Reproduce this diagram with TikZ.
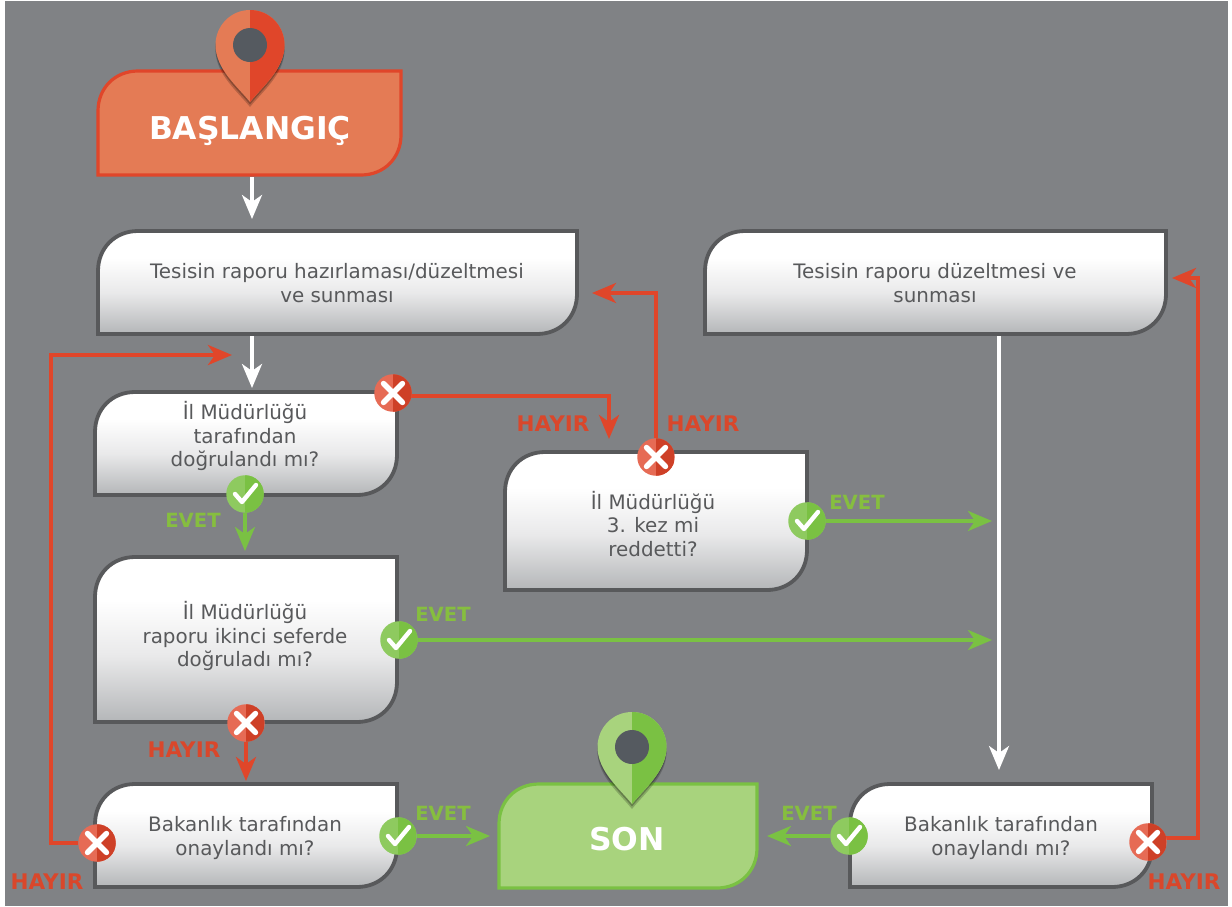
\documentclass[tikz,border=0pt]{standalone}
\usepackage{fontspec}
\setmainfont{DejaVu Sans}
\usetikzlibrary{arrows.meta,calc}
\definecolor{bgc}{HTML}{808285}
\definecolor{edgec}{HTML}{58595B}
\definecolor{txtc}{HTML}{58595B}
\definecolor{redc}{HTML}{E0462A}
\definecolor{redl}{HTML}{E47B55}
\definecolor{grnc}{HTML}{7AC143}
\definecolor{grnl}{HTML}{A8D37D}
\definecolor{lblr}{HTML}{D9472B}
\definecolor{lblg}{HTML}{86BE3F}
\definecolor{pinhole}{HTML}{555A60}
\definecolor{shlo}{HTML}{B4B6B8}
\definecolor{shmid}{HTML}{E9E9EA}
\pgfdeclareverticalshading{boxshade}{100bp}{color(0bp)=(shlo); color(25bp)=(shlo); color(45bp)=(shmid); color(62bp)=(white); color(100bp)=(white)}
\pgfdeclarelayer{bgl}
\pgfdeclarelayer{conn}
\pgfsetlayers{bgl,conn,main}
\tikzset{
  boxtext/.style={align=center,text=txtc,inner sep=0,font=\fontsize{19.9}{23.4}\selectfont},
  flowfill/.style={draw=edgec,line width=3.8,shading=boxshade},
  startfill/.style={draw=redc,line width=3.2,fill=redl},
  endfill/.style={draw=grnc,line width=3.2,fill=grnl},
  termtext/.style={text=white,inner sep=0,font=\fontsize{31.4}{34}\bfseries\selectfont},
  conred/.style={draw=redc,line width=4,-{Stealth[length=24,width=20,inset=7]}},
  congrn/.style={draw=grnc,line width=3.6,-{Stealth[length=24,width=20,inset=7]}},
  conwht/.style={draw=white,line width=3.6,-{Stealth[length=24,width=20,inset=7]}},
  lblno/.style={text=lblr,inner sep=0,font=\fontsize{21.5}{24}\bfseries\selectfont},
  lblyes/.style={text=lblg,inner sep=0,font=\fontsize{19.6}{24}\bfseries\selectfont},
  nobadge/.style={circle,minimum size=37.5,inner sep=0,fill=white!20!redc,path picture={
    \fill[fill=black!8!redc] (path picture bounding box.north) rectangle (path picture bounding box.south east);
    \begin{scope}[shift={(path picture bounding box.center)}]
      \draw[white,line width=5.4,line cap=round] (-9.5,-9.5) -- (9.5,9.5) (-9.5,9.5) -- (9.5,-9.5);
    \end{scope}}},
  yesbadge/.style={circle,minimum size=37.5,inner sep=0,fill=grnc!85!white,path picture={
    \fill[fill=grnc] (path picture bounding box.north) rectangle (path picture bounding box.south east);
    \begin{scope}[shift={(path picture bounding box.center)}]
      \draw[white,line width=4.4,line cap=round,line join=round] (-10,0) -- (-3,8) -- (11,-9);
    \end{scope}}}
}
% outline with large rounded corners at top left and bottom right only
\newcommand{\boxoutline}[5]{%
  \pgfmathsetmacro{\xa}{#2+40}\pgfmathsetmacro{\xb}{#4-40}%
  \pgfmathsetmacro{\xc}{#4-17}\pgfmathsetmacro{\xd}{#2+17}%
  \pgfmathsetmacro{\ya}{#3+40}\pgfmathsetmacro{\yb}{#5-40}%
  \pgfmathsetmacro{\yc}{#5-17}\pgfmathsetmacro{\yd}{#3+17}%
  \path[#1] (\xa,#3) -- (#4,#3) -- (#4,\yb) .. controls (#4,\yc) and (\xc,#5) .. (\xb,#5)
     -- (#2,#5) -- (#2,\ya) .. controls (#2,\yd) and (\xd,#3) .. (\xa,#3) -- cycle;%
}
\newcommand{\pinshape}{(0,57) .. controls (-12,42) and (-34.5,24) .. (-34.5,0)
   .. controls (-34.5,-19.3) and (-19.3,-35) .. (0,-35)
   .. controls (19.3,-35) and (34.5,-19.3) .. (34.5,0)
   .. controls (34.5,24) and (12,42) .. (0,57) -- cycle}
\newcommand{\mappin}[4]{%
  \begin{scope}[shift={(#1,#2)}]
    \fill[black,opacity=.2] [shift={(0,5)}] \pinshape;
    \fill[black,opacity=.25] [shift={(0,2.5)}] \pinshape;
    \fill[#3] \pinshape;
    \begin{scope}
      \clip \pinshape;
      \fill[#4] (0,-40) rectangle (40,60);
    \end{scope}
    \fill[pinhole] (0,0) circle (17);
  \end{scope}%
}
\begin{document}
\begin{tikzpicture}[x=1pt,y=-1pt]
\useasboundingbox (0,0) rectangle (1232,906);
\begin{pgfonlayer}{bgl}
  \fill[white] (0,0) rectangle (1232,906);
  \fill[bgc] (5,1) rectangle (1228,906);
\end{pgfonlayer}

% boxes
\boxoutline{startfill}{98}{71}{401}{175}
\boxoutline{flowfill}{98}{231}{577}{334}
\boxoutline{flowfill}{705}{231}{1166}{334}
\boxoutline{flowfill}{95}{392}{397}{495}
\boxoutline{flowfill}{505}{452}{807}{590}
\boxoutline{flowfill}{95}{557}{397}{722}
\boxoutline{flowfill}{95}{784}{397}{887}
\boxoutline{endfill}{499}{784}{757}{888}
\boxoutline{flowfill}{850}{784}{1152}{887}

% box texts
\node[termtext] (start) at (250,131) {BAŞLANGIÇ};
\node[boxtext] (prep) at (337,283) {Tesisin raporu hazırlaması/düzeltmesi\\ve sunması};
\node[boxtext] (fix) at (935,283) {Tesisin raporu düzeltmesi ve\\sunması};
\node[boxtext] (q1) at (245,436) {İl Müdürlüğü\\tarafından\\doğrulandı mı?};
\node[boxtext] (q3) at (653,524) {İl Müdürlüğü\\3. kez mi\\reddetti?};
\node[boxtext] (q2) at (245,636) {İl Müdürlüğü\\raporu ikinci seferde\\doğruladı mı?};
\node[boxtext] (q4) at (245,838) {Bakanlık tarafından\\onaylandı mı?};
\node[termtext] (son) at (627,839) {SON};
\node[boxtext] (q5) at (1001,838) {Bakanlık tarafından\\onaylandı mı?};

% pins
\mappin{250}{45}{redl}{redc}
\mappin{632}{747}{grnl}{grnc}

% badges
\node[nobadge] (n1) at (393,393) {};
\node[nobadge] (n2) at (656,457) {};
\node[nobadge] (n3) at (246,723) {};
\node[nobadge] (n4) at (97,843) {};
\node[nobadge] (n5) at (1148,842) {};
\node[yesbadge] (y1) at (245,494) {};
\node[yesbadge] (y2) at (807,521) {};
\node[yesbadge] (y3) at (399,640) {};
\node[yesbadge] (y4) at (398,836) {};
\node[yesbadge] (y5) at (849,836) {};

% helper positions for connectors
\coordinate (c1a) at (252,177);
\coordinate (c1b) at (252,219);
\coordinate (c2a) at (252,336);
\coordinate (c2b) at (252,388);
\coordinate (c3a) at (999,336);
\coordinate (c3b) at (999,770);
\coordinate (c4) at (609,396);
\coordinate (c4b) at (609,439);
\coordinate (c5) at (656,293);
\coordinate (c5b) at (592,293);
\coordinate (c6) at (246,781);
\coordinate (c7) at (51,843);
\coordinate (c7a) at (51,355);
\coordinate (c7b) at (232,355);
\coordinate (c8a) at (1148,838);
\coordinate (c8) at (1198,838);
\coordinate (c8b) at (1198,278);
\coordinate (c8c) at (1172,278);
\coordinate (c9) at (245,551);
\coordinate (c10) at (992,521);
\coordinate (c11) at (992,640);
\coordinate (c12) at (490,836);
\coordinate (c13) at (767,836);

\begin{pgfonlayer}{conn}
  \draw[conwht] (c1a) -- (c1b);
  \draw[conwht] (c2a) -- (c2b);
  \draw[conred] (n1.center |- c4) -- (c4) -- (c4b);
  \draw[conred] (n2) -- (c5) -- (c5b);
  \draw[conred] (n3) -- (c6);
  \draw[conred] (n4) -- (c7) -- (c7a) -- (c7b);
  \draw[conred] (c8a) -- (c8) -- (c8b) -- (c8c);
  \draw[congrn] (y1) -- (c9);
  \draw[congrn] (y2) -- (c10);
  \draw[congrn] (y3) -- (c11);
  \draw[congrn] (y4) -- (c12);
  \draw[congrn] (y5) -- (c13);
\end{pgfonlayer}
\draw[conwht] (c3a) -- (c3b);

% labels
\node[lblno] (l1) at (553,424) {HAYIR};
\node[lblno] (l2) at (703,424) {HAYIR};
\node[lblno] (l3) at (184,750) {HAYIR};
\node[lblno] (l4) at (47,882) {HAYIR};
\node[lblno] (l5) at (1184,882) {HAYIR};
\node[lblyes] (l6) at (193,520) {EVET};
\node[lblyes] (l7) at (857,502) {EVET};
\node[lblyes] (l8) at (443,614) {EVET};
\node[lblyes] (l9) at (443,813) {EVET};
\node[lblyes] (l10) at (809,813) {EVET};
\end{tikzpicture}
\end{document}
